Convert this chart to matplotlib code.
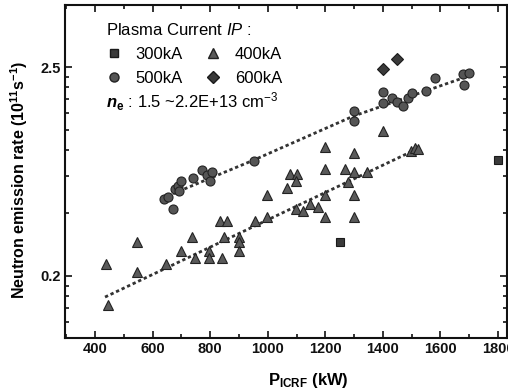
import numpy as np
import matplotlib
matplotlib.use('Agg')
import matplotlib.pyplot as plt
from matplotlib.lines import Line2D
from matplotlib.ticker import FixedLocator, NullFormatter, MultipleLocator

plt.rcParams['font.family'] = ['Liberation Sans', 'DejaVu Sans']
plt.rcParams['mathtext.fontset'] = 'custom'
plt.rcParams['mathtext.rm'] = 'Liberation Sans'
plt.rcParams['mathtext.it'] = 'Liberation Sans:italic'
plt.rcParams['mathtext.bf'] = 'Liberation Sans:bold'
try:
    plt.rcParams['mathtext.bfit'] = 'Liberation Sans:bold:italic'
except Exception:
    pass

# ---------------- data ----------------
x_300 = [1250, 1800]
y_300 = [0.30, 0.81]

x_600 = [1400, 1450]
y_600 = [2.44, 2.75]

x_500 = [640, 654, 671, 678, 688, 692, 699, 740, 772, 789, 806, 799, 952,
         1300, 1300, 1400, 1400, 1432, 1449, 1470, 1487, 1501, 1550, 1581,
         1678, 1699, 1682]
y_500 = [0.51, 0.52, 0.45, 0.57, 0.59, 0.56, 0.63, 0.65, 0.72, 0.68, 0.70, 0.63, 0.80,
         1.47, 1.30, 1.85, 1.62, 1.72, 1.64, 1.56, 1.72, 1.83, 1.87, 2.19,
         2.30, 2.33, 2.01]

x_400 = [438, 445, 546, 546, 647, 699, 737, 747, 796, 796, 841, 848, 834, 858,
         900, 900, 900, 956, 997, 997, 1067, 1077, 1102, 1098, 1147, 1175, 1098,
         1122, 1199, 1199, 1199, 1199, 1268, 1279, 1300, 1300, 1300, 1300, 1344,
         1400, 1498, 1511, 1522]
y_400 = [0.23, 0.14, 0.30, 0.21, 0.23, 0.27, 0.32, 0.25, 0.27, 0.25, 0.25, 0.32, 0.39, 0.39,
         0.32, 0.30, 0.27, 0.39, 0.53, 0.41, 0.58, 0.69, 0.69, 0.63, 0.48, 0.46, 0.45,
         0.44, 0.95, 0.73, 0.53, 0.41, 0.73, 0.62, 0.88, 0.70, 0.53, 0.41, 0.70,
         1.15, 0.91, 0.94, 0.93]

# fit curves
fit_500_x = [632, 950, 1297, 1691]
fit_500_y = [0.511, 0.81, 1.38, 2.224]
fit_400_x = [435, 1511]
fit_400_y = [0.155, 0.917]

x_ticks = [400, 600, 800, 1000, 1200, 1400, 1600, 1800]
y_ticks = [0.2, 2.5]
y_tick_labels = ['0.2', '2.5']

fig = plt.figure(figsize=(5.08, 3.92), dpi=100)
ax = fig.add_axes([65 / 508, 54 / 392, 442 / 508, 333 / 392])

ax.set_yscale('log')
ax.set_xlim(296, 1831)
ax.set_ylim(0.0945, 5.29)

fit_style = dict(color='#333333', lw=2.0, ls=(0, (1.2, 1.0)), zorder=2)
ax.plot(fit_500_x, fit_500_y, **fit_style)
ax.plot(fit_400_x, fit_400_y, **fit_style)

ax.plot(x_300, y_300, ls='none', marker='s', ms=6, mfc='#3a3a3a', mec='#1a1a1a', mew=0.8, zorder=3)
ax.plot(x_400, y_400, ls='none', marker='^', ms=7.5, mfc='#5a5a5a', mec='#222222', mew=0.8, zorder=3)
ax.plot(x_500, y_500, ls='none', marker='o', ms=6.5, mfc='#555555', mec='#222222', mew=0.8, zorder=3)
ax.plot(x_600, y_600, ls='none', marker='D', ms=6.5, mfc='#3a3a3a', mec='#1a1a1a', mew=0.8, zorder=3)

# ticks
ax.xaxis.set_major_locator(FixedLocator(x_ticks))
ax.xaxis.set_minor_locator(MultipleLocator(100))
ax.set_xticklabels([str(t) for t in x_ticks])
ax.yaxis.set_major_locator(FixedLocator(y_ticks))
ax.set_yticklabels(y_tick_labels)
minors = []
for n in (-1, 0, 1):
    for k in range(2, 10):
        minors.append(0.2 * 12.5 ** (n + np.log10(k)))
ax.yaxis.set_minor_locator(FixedLocator(minors))
ax.yaxis.set_minor_formatter(NullFormatter())

ax.tick_params(which='both', direction='in', top=True, right=True, width=1.2, colors='#111111')
ax.tick_params(which='major', length=5)
ax.tick_params(which='minor', length=3)
ax.tick_params(axis='both', labelsize=10.5, pad=3)
for lab in ax.get_xticklabels() + ax.get_yticklabels():
    lab.set_fontweight('bold')
for s in ax.spines.values():
    s.set_linewidth(1.5)
    s.set_color('#111111')

ax.set_xlabel(r'$\mathbf{P}_{\mathbf{ICRF}}$ (kW)', fontsize=12, fontweight='bold')
ax.xaxis.set_label_coords(0.55, -0.10)
ax.set_ylabel(r'Neutron emission rate (10$^{\mathbf{11}}$s$^{\mathbf{-1}}$)', fontsize=11.5, fontweight='bold')
ax.yaxis.set_label_coords(-0.08, 0.474)

# legend
handles = [
    Line2D([], [], ls='none', marker='s', ms=6, mfc='#3a3a3a', mec='#1a1a1a'),
    Line2D([], [], ls='none', marker='o', ms=6.5, mfc='#555555', mec='#222222'),
    Line2D([], [], ls='none', marker='^', ms=7.5, mfc='#5a5a5a', mec='#222222'),
    Line2D([], [], ls='none', marker='D', ms=6.5, mfc='#3a3a3a', mec='#1a1a1a'),
]
labels = ['300kA', '500kA', '400kA', '600kA']
leg = ax.legend(handles, labels, ncol=2, loc='upper left', bbox_to_anchor=(0.062, 0.99),
                frameon=False, fontsize=12, title=r'Plasma Current $\it{IP}$ :',
                title_fontsize=12, handlelength=1.0, handletextpad=0.8,
                columnspacing=1.3, labelspacing=0.55, alignment='left', borderpad=0.3)
ax.text(0.093, 0.71, r'$\mathbfit{n}_{\mathbf{e}}$ : 1.5 ~2.2E+13 cm$^{-3}$', transform=ax.transAxes,
        fontsize=12, ha='left', va='center')

fig.savefig('out.png', dpi=100)
